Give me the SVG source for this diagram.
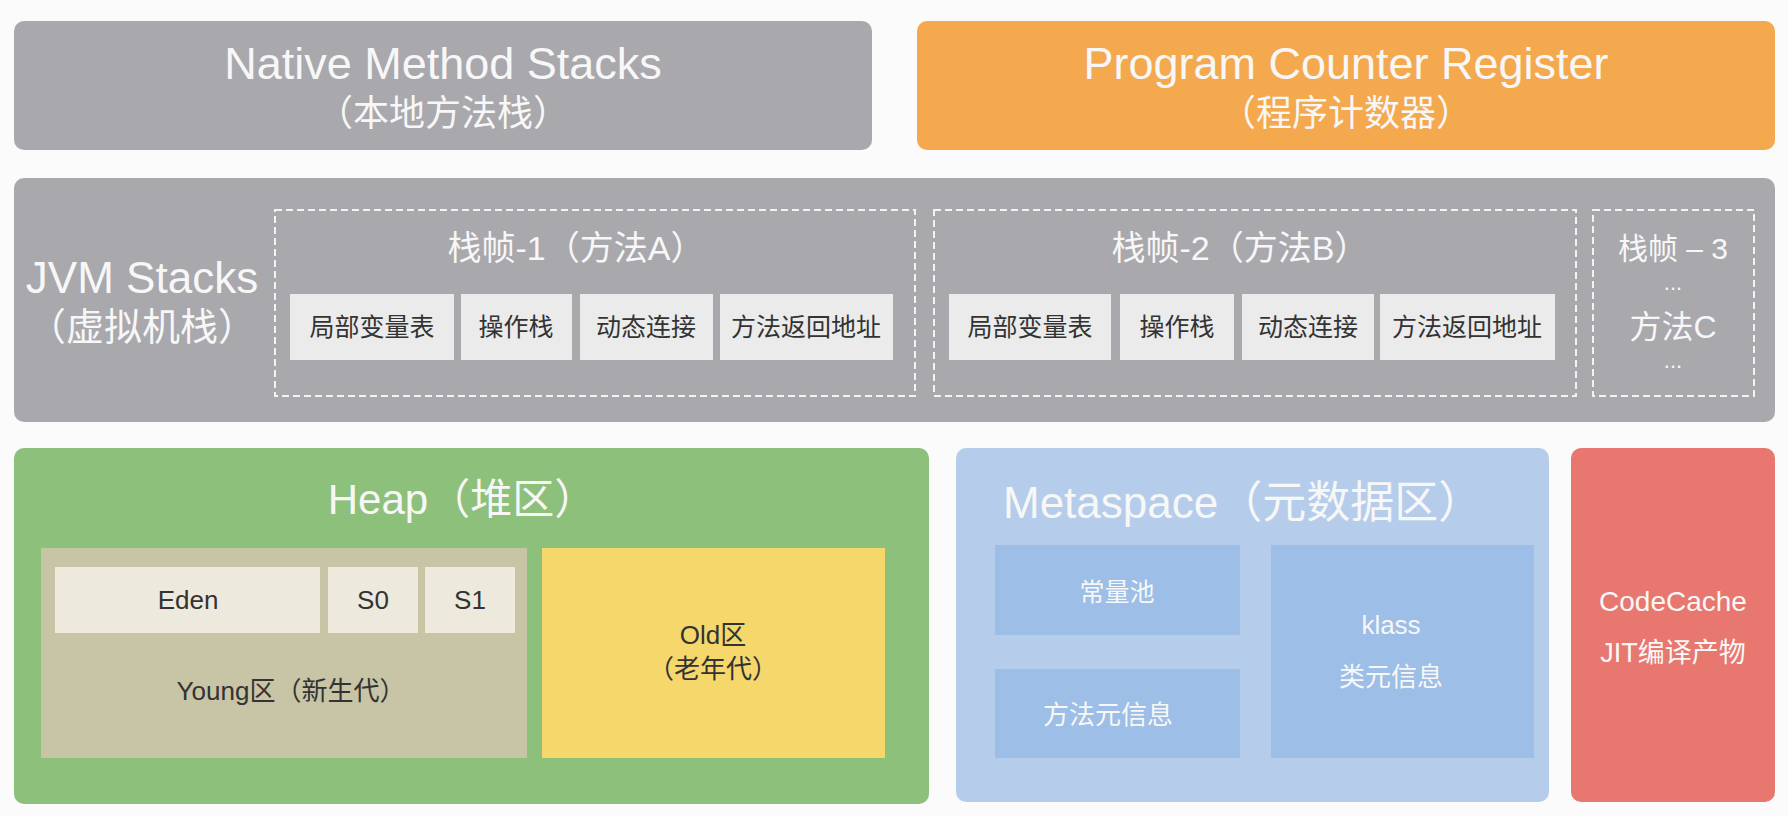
<svg xmlns="http://www.w3.org/2000/svg" width="1788" height="816" viewBox="0 0 1788 816">
<style>
text{font-family:"Liberation Sans","Noto Sans CJK SC",sans-serif;text-anchor:middle;dominant-baseline:central}
.w{fill:#f7f7f7}
.d{fill:#333333}
.gray{fill:#a9a8ad}
.cell{fill:#ebebeb}
.dash{fill:none;stroke:#f2f2f2;stroke-width:2;stroke-dasharray:7 4}
.ms{fill:#9dbee6}
</style>
<rect width="1788" height="816" fill="#fbfbfb"/>
<g id="native-method-stacks">
<rect class="gray" x="14" y="21" width="858" height="129" rx="10"/>
<text class="w" x="443" y="63" font-size="45">Native Method Stacks</text>
<text class="w" x="443" y="113" font-size="36">（本地方法栈）</text>
</g>
<g id="program-counter-register">
<rect x="917" y="21" width="858" height="129" rx="10" fill="#f4a94e"/>
<text class="w" x="1346" y="63" font-size="45">Program Counter Register</text>
<text class="w" x="1346" y="113" font-size="36">（程序计数器）</text>
</g>
<g id="jvm-stacks">
<rect class="gray" x="14" y="178" width="1761" height="244" rx="10"/>
<text class="w" x="142" y="277" font-size="44">JVM Stacks</text>
<text class="w" x="142" y="327" font-size="38">（虚拟机栈）</text>
</g>
<g id="frame-1">
<rect class="dash" x="275" y="210" width="640" height="186"/>
<text class="w" x="576" y="248" font-size="34">栈帧-1（方法A）</text>
<rect class="cell" x="290" y="294" width="164" height="66"/>
<text class="d" x="372" y="327" font-size="25">局部变量表</text>
<rect class="cell" x="461" y="294" width="111" height="66"/>
<text class="d" x="516" y="327" font-size="25">操作栈</text>
<rect class="cell" x="580" y="294" width="133" height="66"/>
<text class="d" x="646" y="327" font-size="25">动态连接</text>
<rect class="cell" x="720" y="294" width="173" height="66"/>
<text class="d" x="806" y="327" font-size="25">方法返回地址</text>
</g>
<g id="frame-2">
<rect class="dash" x="934" y="210" width="642" height="186"/>
<text class="w" x="1240" y="248" font-size="34">栈帧-2（方法B）</text>
<rect class="cell" x="949" y="294" width="162" height="66"/>
<text class="d" x="1030" y="327" font-size="25">局部变量表</text>
<rect class="cell" x="1120" y="294" width="114" height="66"/>
<text class="d" x="1177" y="327" font-size="25">操作栈</text>
<rect class="cell" x="1242" y="294" width="132" height="66"/>
<text class="d" x="1308" y="327" font-size="25">动态连接</text>
<rect class="cell" x="1380" y="294" width="175" height="66"/>
<text class="d" x="1467" y="327" font-size="25">方法返回地址</text>
</g>
<g id="frame-3">
<rect class="dash" x="1593" y="210" width="161" height="186"/>
<text class="w" x="1673" y="248" font-size="30">栈帧 – 3</text>
<text class="w" x="1673" y="282" font-size="22">...</text>
<text class="w" x="1673" y="327" font-size="32">方法C</text>
<text class="w" x="1673" y="360" font-size="22">...</text>
</g>
<g id="heap">
<rect x="14" y="448" width="915" height="356" rx="10" fill="#8dc07b"/>
<text class="w" x="462" y="499" font-size="42">Heap（堆区）</text>
</g>
<g id="young">
<rect x="41" y="548" width="486" height="210" fill="#c8c4a6"/>
<text class="d" x="291" y="691" font-size="26">Young区（新生代）</text>
</g>
<g id="eden">
<rect x="55" y="567" width="265" height="66" fill="#ede9dd"/>
<text class="d" x="188" y="600" font-size="26">Eden</text>
</g>
<g id="s0">
<rect x="328" y="567" width="90" height="66" fill="#ede9dd"/>
<text class="d" x="373" y="600" font-size="26">S0</text>
</g>
<g id="s1">
<rect x="425" y="567" width="90" height="66" fill="#ede9dd"/>
<text class="d" x="470" y="600" font-size="26">S1</text>
</g>
<g id="old">
<rect x="542" y="548" width="343" height="210" fill="#f6d76c"/>
<text class="d" x="713" y="635" font-size="26">Old区</text>
<text class="d" x="713" y="669" font-size="26">（老年代）</text>
</g>
<g id="metaspace">
<rect x="956" y="448" width="593" height="354" rx="10" fill="#b5cdeb"/>
<text class="w" x="1003" y="502" font-size="44" style="text-anchor:start">Metaspace（元数据区）</text>
</g>
<g id="constant-pool">
<rect class="ms" x="995" y="545" width="245" height="90"/>
<text class="w" x="1117" y="592" font-size="25">常量池</text>
</g>
<g id="method-meta">
<rect class="ms" x="995" y="669" width="245" height="89"/>
<text class="w" x="1108" y="715" font-size="26">方法元信息</text>
</g>
<g id="klass">
<rect class="ms" x="1271" y="545" width="263" height="213"/>
<text class="w" x="1391" y="625" font-size="26">klass</text>
<text class="w" x="1391" y="677" font-size="26">类元信息</text>
</g>
<g id="codecache">
<rect x="1571" y="448" width="204" height="354" rx="10" fill="#e8776f"/>
<text class="w" x="1673" y="601" font-size="28">CodeCache</text>
<text class="w" x="1673" y="653" font-size="27">JIT编译产物</text>
</g>
<g id="connectors"></g>
</svg>
